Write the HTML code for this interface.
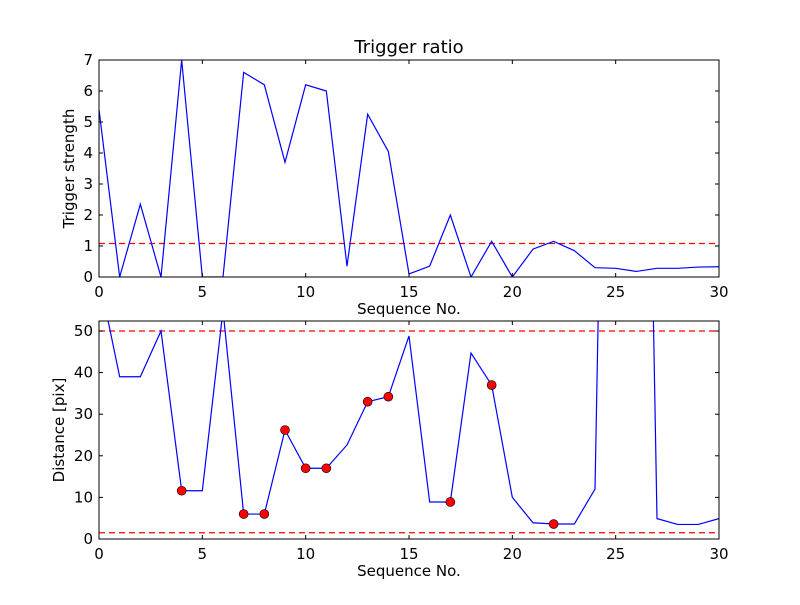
<!DOCTYPE html>
<html><head><meta charset="utf-8"><style>
body{margin:0;background:#fff}
text{font-family:"DejaVu Sans","Liberation Sans",sans-serif;fill:#000}
</style></head><body>
<svg id="c" width="800" height="600" xmlns="http://www.w3.org/2000/svg">
<defs>
<clipPath id="cp1"><rect x="99" y="60" width="620" height="217"/></clipPath>
<clipPath id="cp2"><rect x="99" y="321" width="620" height="218"/></clipPath>
</defs>
</svg>
<script>
const seq = [0,1,2,3,4,5,6,7,8,9,10,11,12,13,14,15,16,17,18,19,20,21,22,23,24,25,26,27,28,29,30];
const trigger = [5.4,0,2.35,0,7.0,0,0,6.6,6.2,3.7,6.2,6.0,0.35,5.25,4.05,0.1,0.35,2.0,0,1.15,0,0.9,1.15,0.85,0.3,0.28,0.18,0.28,0.28,0.32,0.33];
const triggerThreshold = 1.08;
const distance = [63,39,39,50,11.6,11.6,55,6,6,26.2,17,17,22.6,33,34.2,48.8,8.9,8.9,44.7,37,10,3.9,3.6,3.6,12,280,280,4.9,3.5,3.5,4.9];
const markedIdx = [4,7,8,9,10,11,13,14,17,19,22];
const distThresholds = [50,1.5];
const xTicks = [0,5,10,15,20,25,30];
const yTicksTop = [0,1,2,3,4,5,6,7];
const yTicksBot = [0,10,20,30,40,50];

const svg = document.getElementById('c');
const NS = 'http://www.w3.org/2000/svg';
function mk(tag, attrs, parent){const e=document.createElementNS(NS,tag);for(const k in attrs)e.setAttribute(k,attrs[k]);(parent||svg).appendChild(e);return e;}
const X0=99,X1=719;
const sx = v => X0 + (v-0)/30*(X1-X0);
const syT = v => 277 - v/7*217;
const syB = v => 539 - v/52.4*218;

function axes(top,bot,sy,yticks,name,ylabel){
  const g=mk('g',{});
  
  
  xTicks.forEach(t=>{
    const x=sx(t);
    mk('line',{x1:x,x2:x,y1:bot,y2:bot-4,stroke:'#000'},g);
    mk('line',{x1:x,x2:x,y1:top,y2:top+4,stroke:'#000'},g);
    const tx=mk('text',{x:x,y:bot+20,'text-anchor':'middle','font-size':'15'},g);
    tx.textContent=t;
    
    
  });
  yticks.forEach(t=>{
    const y=sy(t);
    mk('line',{x1:X0,x2:X0+4,y1:y,y2:y,stroke:'#000'},g);
    mk('line',{x1:X1,x2:X1-4,y1:y,y2:y,stroke:'#000'},g);
    const tx=mk('text',{x:X0-6,y:y+5,'text-anchor':'end','font-size':'15'},g);
    tx.textContent=t;
    
    
  });
  const xl=mk('text',{x:(X0+X1)/2,y:bot+37,'text-anchor':'middle','font-size':'15'},g);
  xl.textContent='Sequence No.';
  
  
  const cy=(top+bot)/2;
  const yl=mk('text',{x:0,y:0,'text-anchor':'middle','font-size':'15',transform:`translate(${top<100?74:64},${cy}) rotate(-90)`},g);
  yl.textContent=ylabel;
  
  
  return g;
}

// top
const tl=mk('text',{x:409,y:53,'text-anchor':'middle','font-size':'18'});
tl.textContent='Trigger ratio';


const g1=mk('g',{'clip-path':'url(#cp1)'});
const th1=mk('line',{x1:X0,x2:X1,y1:syT(triggerThreshold),y2:syT(triggerThreshold),stroke:'red','stroke-width':1.2,'stroke-dasharray':'6,4'},g1);


const l1=mk('polyline',{points:seq.map((s,i)=>sx(s)+','+syT(trigger[i])).join(' '),fill:'none',stroke:'blue','stroke-width':1.2},g1);


mk('rect',{x:X0,y:60,width:620,height:217,fill:'none',stroke:'#000'});
axes(60,277,syT,yTicksTop,'top-axes','Trigger strength');

// bottom
const g2=mk('g',{'clip-path':'url(#cp2)'});
distThresholds.forEach(v=>{
  const l=mk('line',{x1:X0,x2:X1,y1:syB(v),y2:syB(v),stroke:'red','stroke-width':1.2,'stroke-dasharray':'6,4'},g2);
  
  
});
const l2=mk('polyline',{points:seq.map((s,i)=>sx(s)+','+syB(distance[i])).join(' '),fill:'none',stroke:'blue','stroke-width':1.2},g2);


markedIdx.forEach(i=>{
  const c=mk('circle',{cx:sx(seq[i]),cy:syB(distance[i]),r:4.5,fill:'red',stroke:'#000','stroke-width':0.6},g2);
  
  
});
mk('rect',{x:X0,y:321,width:620,height:218,fill:'none',stroke:'#000'});
axes(321,539,syB,yTicksBot,'bottom-axes','Distance [pix]');
</script>
</body></html>
